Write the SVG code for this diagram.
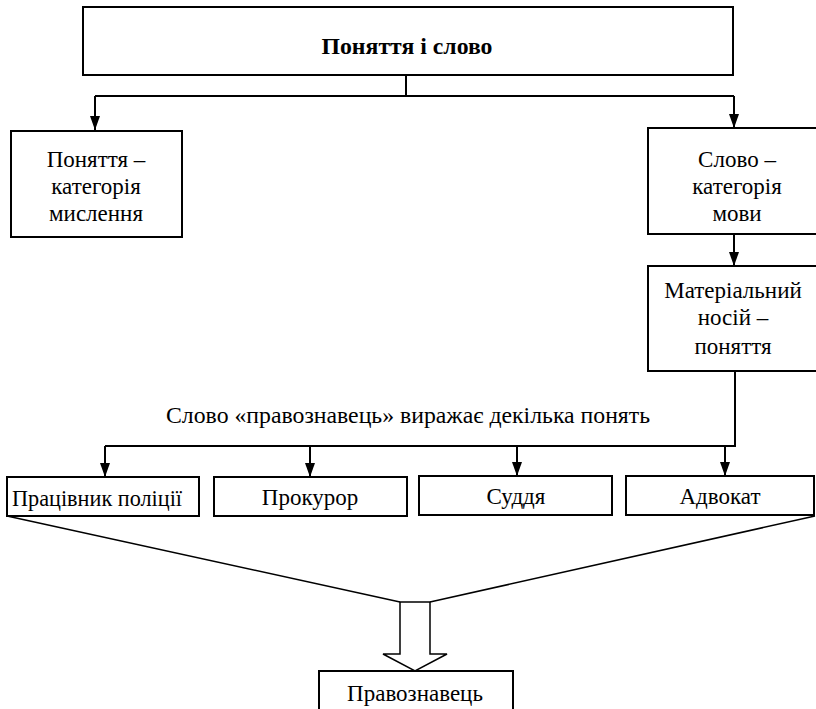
<svg xmlns="http://www.w3.org/2000/svg" width="816" height="709" viewBox="0 0 816 709">
<style>
.box{fill:#fff;stroke:#000;stroke-width:2}
.t{font-family:"Liberation Serif","Times New Roman","DejaVu Serif",serif;font-size:23px;fill:#000;text-anchor:middle}
.b{font-weight:bold}
.c{fill:none;stroke:#000;stroke-width:2}
.thin{fill:none;stroke:#000;stroke-width:1.5}
</style>
<defs>
<marker id="arr" markerWidth="14" markerHeight="10" refX="14" refY="5" orient="auto" markerUnits="userSpaceOnUse" viewBox="0 0 14 10">
<path d="M0,0 L14,5 L0,10 Z" fill="#000"/>
</marker>
</defs>
<g id="connectors">
<path class="c" d="M406,75 V96"/>
<path class="c" d="M95,96 H734"/>
<path class="c" d="M95,96 V130" marker-end="url(#arr)"/>
<path class="c" d="M734,96 V128" marker-end="url(#arr)"/>
<path class="c" d="M734,234 V266" marker-end="url(#arr)"/>
<path class="c" d="M735,371 V446 H105"/>
<path class="c" d="M105,446 V477" marker-end="url(#arr)"/>
<path class="c" d="M310,446 V477" marker-end="url(#arr)"/>
<path class="c" d="M517,446 V476" marker-end="url(#arr)"/>
<path class="c" d="M725,446 V476" marker-end="url(#arr)"/>
<path class="thin" d="M7,516 L400,602"/>
<path class="thin" d="M815,516 L430,602"/>
<path class="thin" d="M400,602 H430 V654 H447 L415,671 L383,654 H400 Z" fill="#fff"/>
</g>
<g id="top">
<rect class="box" x="83" y="7" width="650" height="68"/>
<text class="t b" x="407" y="54" textLength="171" lengthAdjust="spacingAndGlyphs">Поняття і слово</text>
</g>
<g id="left">
<rect class="box" x="11" y="131" width="171" height="106"/>
<text class="t" x="96" y="167">Поняття –</text>
<text class="t" x="96" y="194">категорія</text>
<text class="t" x="96" y="221">мислення</text>
</g>
<g id="right">
<rect class="box" x="648" y="128" width="180" height="106"/>
<text class="t" x="737" y="167">Слово –</text>
<text class="t" x="737" y="194">категорія</text>
<text class="t" x="737" y="221">мови</text>
</g>
<g id="material">
<rect class="box" x="648" y="266" width="180" height="105"/>
<text class="t" x="733" y="298">Матеріальний</text>
<text class="t" x="733" y="325">носій –</text>
<text class="t" x="733" y="354">поняття</text>
</g>
<g id="caption">
<text class="t" x="408" y="423" textLength="484" lengthAdjust="spacingAndGlyphs">Слово «правознавець» виражає декілька понять</text>
</g>
<g id="police">
<rect class="box" x="7" y="477" width="192" height="39"/>
<text class="t" x="97" y="506" textLength="170" lengthAdjust="spacingAndGlyphs">Працівник поліції</text>
</g>
<g id="prosecutor">
<rect class="box" x="214" y="477" width="193" height="39"/>
<text class="t" x="310" y="505">Прокурор</text>
</g>
<g id="judge">
<rect class="box" x="419" y="476" width="193" height="39"/>
<text class="t" x="516" y="504">Суддя</text>
</g>
<g id="lawyer">
<rect class="box" x="626" y="476" width="188" height="39"/>
<text class="t" x="720" y="504">Адвокат</text>
</g>
<g id="jurist">
<rect class="box" x="319" y="671" width="194" height="50"/>
<text class="t" x="415" y="701">Правознавець</text>
</g>
</svg>
